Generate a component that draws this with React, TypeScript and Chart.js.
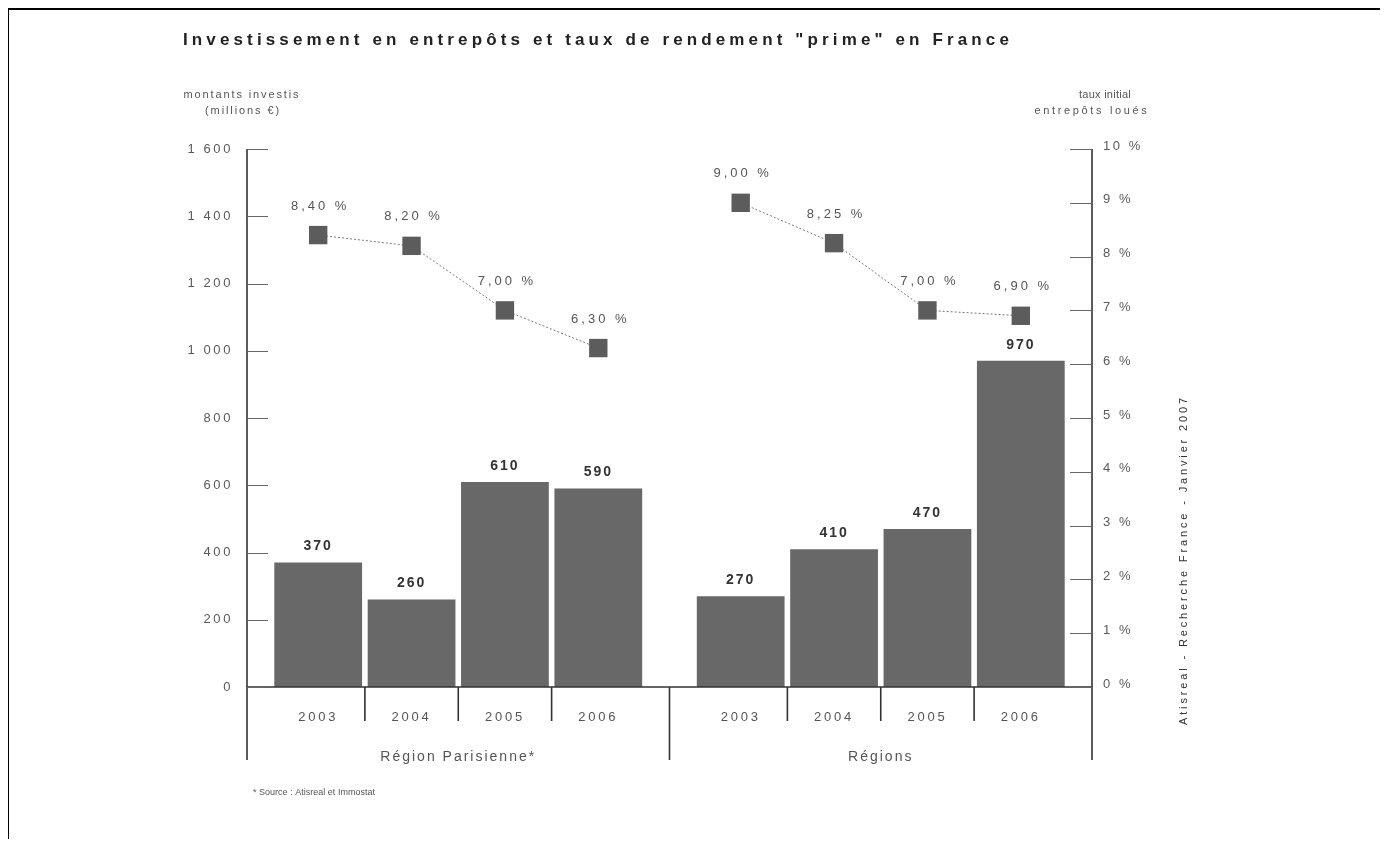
import React, { useEffect, useRef } from 'react';
import { Chart, registerables } from 'chart.js';

Chart.register(...registerables);

const TITLE = 'Investissement en entrepôts et taux de rendement "prime" en France';
const GROUPS = ['Région Parisienne*', 'Régions'];
const YEARS = ['2003', '2004', '2005', '2006'];
const INVEST_PARIS = [370, 260, 610, 590];
const INVEST_REGIONS = [270, 410, 470, 970];
const YIELD_PARIS = [8.4, 8.2, 7.0, 6.3];
const YIELD_REGIONS = [9.0, 8.25, 7.0, 6.9];
const LEFT_MAX = 1600;
const LEFT_STEP = 200;
const RIGHT_MAX = 10;
const RIGHT_STEP = 1;
const LEFT_TITLE = ['montants investis', '(millions €)'];
const RIGHT_TITLE = ['taux initial', 'entrepôts loués'];
const FOOTNOTE = '* Source : Atisreal et Immostat';
const SOURCE = 'Atisreal - Recherche France - Janvier 2007';

const CAT_PCT = 0.884;
const BAR_PCT = 0.94;
const FONT = '"Liberation Sans", Arial, sans-serif';
const BAR_COLOR = '#686868';
const TEXT_COLOR = '#555';

const INVEST = [INVEST_PARIS, INVEST_REGIONS];
const YIELDS = [YIELD_PARIS, YIELD_REGIONS];

const thousands = (v: number) => String(v).replace(/\B(?=(\d{3})+(?!\d))/g, ' ');
const pct = (v: number) => v.toFixed(2).replace('.', ',') + ' %';

function fillFit(ctx: CanvasRenderingContext2D, text: string, x: number, y: number, width: number) {
  (ctx as any).letterSpacing = '0px';
  const w = ctx.measureText(text).width;
  const ls = Math.max(0, (width - w) / text.length);
  (ctx as any).letterSpacing = ls + 'px';
  ctx.fillText(text, x, y);
  (ctx as any).letterSpacing = '0px';
}

function fillSpaced(ctx: CanvasRenderingContext2D, text: string, x: number, y: number, ls: number) {
  (ctx as any).letterSpacing = ls + 'px';
  ctx.fillText(text, x, y);
  (ctx as any).letterSpacing = '0px';
}

const decorPlugin = {
  id: 'decor',
  beforeDraw(chart: any) {
    const ctx = chart.ctx as CanvasRenderingContext2D;
    ctx.save();
    ctx.strokeStyle = '#000';
    ctx.lineWidth = 2;
    ctx.beginPath();
    ctx.moveTo(8, chart.height);
    ctx.lineTo(8, 9);
    ctx.lineTo(1383, 9);
    ctx.lineTo(1383, chart.height);
    ctx.stroke();
    ctx.restore();
    (ctx as any).letterSpacing = '2.6px';
  },
  afterDraw(chart: any) {
    const ctx = chart.ctx as CanvasRenderingContext2D;
    (ctx as any).letterSpacing = '0px';
    const { left, right, bottom } = chart.chartArea;
    const yS = chart.scales.y;
    const y1S = chart.scales.y1;
    const xS = chart.scales.x;
    ctx.save();

    // axis lines
    ctx.strokeStyle = '#333';
    ctx.lineWidth = 1.6;
    ctx.beginPath();
    ctx.moveTo(left, yS.getPixelForValue(LEFT_MAX));
    ctx.lineTo(left, bottom + 73);
    ctx.moveTo(right, y1S.getPixelForValue(RIGHT_MAX));
    ctx.lineTo(right, bottom + 73);
    ctx.moveTo(left, bottom);
    ctx.lineTo(right, bottom);
    ctx.stroke();

    // inner ticks
    ctx.strokeStyle = '#666';
    ctx.lineWidth = 1;
    ctx.beginPath();
    yS.ticks.forEach((t: any) => {
      const y = Math.round(yS.getPixelForValue(t.value)) + 0.5;
      ctx.moveTo(left, y);
      ctx.lineTo(left + 21, y);
    });
    y1S.ticks.forEach((t: any) => {
      const y = Math.round(y1S.getPixelForValue(t.value)) + 0.5;
      ctx.moveTo(right - 22, y);
      ctx.lineTo(right, y);
    });
    ctx.stroke();

    // dividers below axis
    ctx.strokeStyle = '#333';
    ctx.lineWidth = 1.6;
    ctx.beginPath();
    GROUPS.forEach((_, g) => {
      for (let j = 0; j < YEARS.length - 1; j++) {
        const a = chart.getDatasetMeta(j).data[g];
        const b = chart.getDatasetMeta(j + 1).data[g];
        const x = (a.x + b.x) / 2;
        ctx.moveTo(x, bottom);
        ctx.lineTo(x, bottom + 34);
      }
    });
    for (let g = 0; g < GROUPS.length - 1; g++) {
      const x = (xS.getPixelForValue(g) + xS.getPixelForValue(g + 1)) / 2;
      ctx.moveTo(x, bottom);
      ctx.lineTo(x, bottom + 73);
    }
    ctx.stroke();

    ctx.textBaseline = 'middle';
    ctx.textAlign = 'center';

    // year labels, bar values
    GROUPS.forEach((_, g) => {
      YEARS.forEach((yr, j) => {
        const bar = chart.getDatasetMeta(j).data[g];
        ctx.fillStyle = TEXT_COLOR;
        ctx.font = `13px ${FONT}`;
        fillSpaced(ctx, yr, bar.x, bottom + 30, 2.8);
        ctx.fillStyle = '#333';
        ctx.font = `bold 14px ${FONT}`;
        fillSpaced(ctx, thousands(INVEST[g][j]), bar.x, bar.y - 16, 2);
      });
      ctx.fillStyle = TEXT_COLOR;
      ctx.font = `14px ${FONT}`;
      fillSpaced(ctx, GROUPS[g], xS.getPixelForValue(g), bottom + 70, 2);
    });

    // yield labels
    GROUPS.forEach((_, g) => {
      const meta = chart.getDatasetMeta(YEARS.length + g);
      meta.data.forEach((pt: any, j: number) => {
        ctx.fillStyle = TEXT_COLOR;
        ctx.font = `13px ${FONT}`;
        fillSpaced(ctx, pct(YIELDS[g][j]), pt.x + 2, pt.y - 29, 3);
      });
    });

    // title
    ctx.textAlign = 'left';
    ctx.fillStyle = '#222';
    ctx.font = `bold 17px ${FONT}`;
    fillFit(ctx, TITLE, 183, 40, 830);

    // axis titles
    ctx.textAlign = 'center';
    ctx.fillStyle = TEXT_COLOR;
    ctx.font = `11px ${FONT}`;
    fillFit(ctx, LEFT_TITLE[0], 242, 95, 117);
    fillFit(ctx, LEFT_TITLE[1], 243, 111, 76);
    fillFit(ctx, RIGHT_TITLE[0], 1105, 95, 52);
    fillFit(ctx, RIGHT_TITLE[1], 1092, 111, 115);

    // footnote
    ctx.textAlign = 'left';
    ctx.font = `9px ${FONT}`;
    fillFit(ctx, FOOTNOTE, 253, 793, 122);

    // rotated source
    ctx.save();
    ctx.translate(1184, 560);
    ctx.rotate(-Math.PI / 2);
    ctx.textAlign = 'center';
    ctx.font = `11px ${FONT}`;
    ctx.fillStyle = '#333';
    fillFit(ctx, SOURCE, 0, 0, 330);
    ctx.restore();

    ctx.restore();
  },
};

export default function App() {
  const ref = useRef<HTMLCanvasElement | null>(null);

  useEffect(() => {
    if (!ref.current) return;
    const slot = CAT_PCT / YEARS.length;
    const mid = (YEARS.length - 1) / 2;
    const lineData = (vals: number[], g: number) =>
      vals.map((v, j) => ({ x: g + (j - mid) * slot, y: v }));

    const barSets = YEARS.map((yr, j) => ({
      type: 'bar' as const,
      label: yr,
      data: INVEST.map((arr, g) => ({ x: g, y: arr[j] })),
      backgroundColor: BAR_COLOR,
      borderWidth: 0,
      categoryPercentage: CAT_PCT,
      barPercentage: BAR_PCT,
      order: 2,
    }));
    const lineSets = GROUPS.map((grp, g) => ({
      type: 'line' as const,
      label: grp,
      data: lineData(YIELDS[g], g),
      yAxisID: 'y1',
      borderColor: '#777',
      borderWidth: 1,
      borderDash: [2, 2],
      pointStyle: 'rect' as const,
      pointRadius: 13,
      pointBackgroundColor: '#5c5c5c',
      pointBorderWidth: 0,
      order: 1,
    }));

    const chart = new Chart(ref.current, {
      type: 'bar',
      data: { datasets: [...barSets, ...lineSets] as any },
      options: {
        responsive: false,
        animation: false,
        layout: { padding: { top: 149, bottom: 160, left: 0, right: 0 } },
        plugins: { legend: { display: false }, tooltip: { enabled: false }, title: { display: false } },
        scales: {
          x: {
            type: 'linear',
            display: false,
            min: -0.5,
            max: GROUPS.length - 0.5,
            offset: false,
            ticks: { stepSize: 1 },
          },
          y: {
            position: 'left',
            min: 0,
            max: LEFT_MAX,
            grid: { display: false, drawTicks: false },
            border: { display: false },
            ticks: {
              stepSize: LEFT_STEP,
              padding: 14,
              labelOffset: 0,
              color: '#5a5a5a',
              font: { size: 13, family: FONT },
              callback: (v: any) => thousands(Number(v)),
            },
            afterFit: (s: any) => { s.width = 247; },
          },
          y1: {
            position: 'right',
            min: 0,
            max: RIGHT_MAX,
            grid: { display: false, drawTicks: false },
            border: { display: false },
            ticks: {
              stepSize: RIGHT_STEP,
              padding: 11,
              labelOffset: -3,
              color: '#5a5a5a',
              font: { size: 13, family: FONT },
              callback: (v: any) => `${v} %`,
            },
            afterFit: (s: any) => { s.width = 296; },
          },
        },
      } as any,
      plugins: [decorPlugin],
    });
    return () => chart.destroy();
  }, []);

  return (
    <div style={{ position: 'relative', width: 1372, height: 831 }}>
      <canvas
        ref={ref}
        width={1388}
        height={847}
        style={{ position: 'absolute', left: -8, top: -8, display: 'block', width: 1388, height: 847 }}
      />
    </div>
  );
}
